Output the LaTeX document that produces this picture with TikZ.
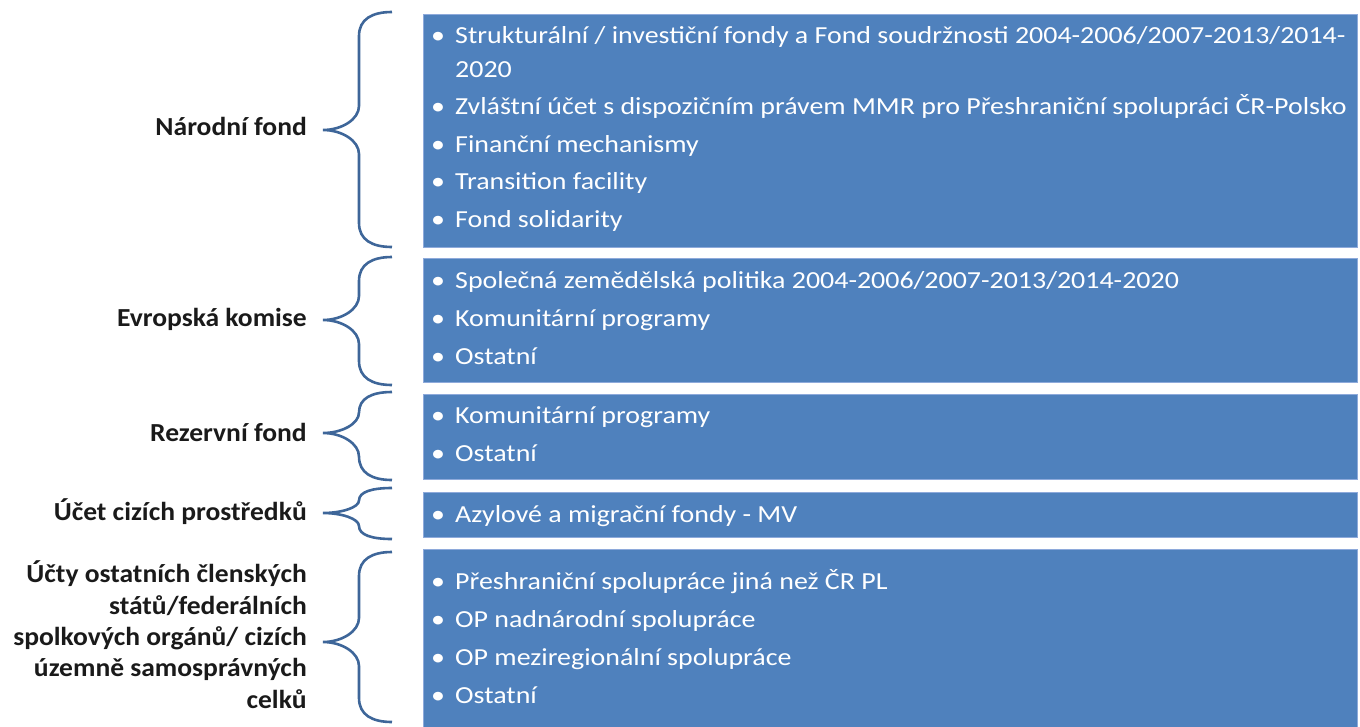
\documentclass[tikz,border=0pt]{standalone}
\usepackage{fontspec}
\setmainfont{Carlito}
\newfontfamily\itemfont{Carlito}[FakeStretch=1.14]
\newfontfamily\labelfont{Carlito}[FakeStretch=1.06]
\definecolor{boxblue}{HTML}{4F81BD}
\definecolor{boxedge}{HTML}{8EAADB}
\definecolor{braceblue}{HTML}{3E6699}
\definecolor{labeltext}{HTML}{1A1A1A}
\tikzset{
  fundbox/.style={fill=boxblue, draw=boxedge, line width=1pt},
  bracestroke/.style={draw=braceblue, line width=2.6pt},
  fundlabel/.style={anchor=base east, inner sep=0pt, text=labeltext, font=\labelfont\bfseries\fontsize{26}{31.3}\selectfont, align=right},
  item/.style={anchor=base west, inner sep=0pt, text=white, font=\itemfont\fontsize{24.5}{30}\selectfont}
}
% #1 top, #2 bottom, #3 tip
\newcommand{\fundbrace}[3]{%
  \pgfmathsetmacro{\ra}{min(24,(#3-#1)/2)}%
  \pgfmathsetmacro{\rb}{min(24,(#2-#3)/2)}%
  \draw[bracestroke] (392,#1) .. controls (372,#1) and (359,#1+0.3*\ra) .. (359,#1+\ra)
    -- (359,#3-\ra) .. controls (359,#3-0.45*\ra) and (342,#3) .. (323,#3)
    .. controls (342,#3) and (359,#3+0.45*\rb) .. (359,#3+\rb)
    -- (359,#2-\rb) .. controls (359,#2-0.3*\rb) and (372,#2) .. (392,#2);}
\newcommand{\bul}{\makebox[24pt][l]{\textbullet}}
\begin{document}
\begin{tikzpicture}[x=1pt, y=-1pt]
  \useasboundingbox (0,0) rectangle (1360,726);
  % boxes
  \draw[fundbox] (423,14) rectangle (1357,247);
  \draw[fundbox] (423,258) rectangle (1357,382);
  \draw[fundbox] (423,394) rectangle (1357,479);
  \draw[fundbox] (423,492) rectangle (1357,537);
  \draw[fundbox] (423,549) rectangle (1357,730);
  % braces
  \fundbrace{12}{247}{130}
  \fundbrace{257}{385}{320}
  \fundbrace{392}{480}{433}
  \fundbrace{488}{539}{513}
  \fundbrace{552}{722}{642}
  % labels
  \node[fundlabel] (narodni) at (307,135) {Národní fond};
  \node[fundlabel] (komise) at (307,326) {Evropská komise};
  \node[fundlabel] (rezerva) at (307,441) {Rezervní fond};
  \node[fundlabel] (cizi) at (307,520) {Účet cizích prostředků};
  \node[fundlabel] (ostatni) at (307,708) {Účty ostatních členských\\států/federálních\\spolkových orgánů/ cizích\\územně samosprávných\\celků};
  % items
  \node[item] (nf1) at (431,43) {\bul Strukturální / investiční fondy a Fond soudržnosti 2004-2006/2007-2013/2014-};
  \node[item] (nf1b) at (455,77) {2020};
  \node[item] (nf2) at (431,114) {\bul Zvláštní účet s dispozičním právem MMR pro Přeshraniční spolupráci ČR-Polsko};
  \node[item] (nf3) at (431,152) {\bul Finanční mechanismy};
  \node[item] (nf4) at (431,189.5) {\bul Transition facility};
  \node[item] (nf5) at (431,227) {\bul Fond solidarity};
  \node[item] (ek1) at (431,288) {\bul Společná zemědělská politika 2004-2006/2007-2013/2014-2020};
  \node[item] (ek2) at (431,326) {\bul Komunitární programy};
  \node[item] (ek3) at (431,364) {\bul Ostatní};
  \node[item] (rf1) at (431,423) {\bul Komunitární programy};
  \node[item] (rf2) at (431,461) {\bul Ostatní};
  \node[item] (uc1) at (431,522) {\bul Azylové a migrační fondy - MV};
  \node[item] (os1) at (431,589) {\bul Přeshraniční spolupráce jiná než ČR PL};
  \node[item] (os2) at (431,627) {\bul OP nadnárodní spolupráce};
  \node[item] (os3) at (431,665) {\bul OP meziregionální spolupráce};
  \node[item] (os4) at (431,703) {\bul Ostatní};
\end{tikzpicture}
\end{document}
